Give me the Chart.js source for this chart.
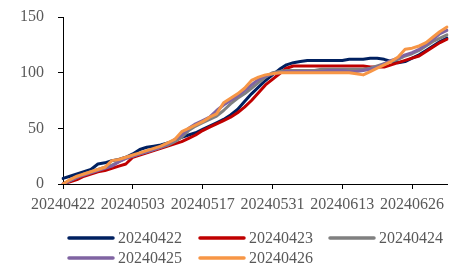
<!DOCTYPE html>
<html>
<head>
<meta charset="utf-8">
<script src="https://cdn.jsdelivr.net/npm/chart.js@4/dist/chart.umd.min.js"></script>
<style>
html,body{margin:0;padding:0;background:#fff;}
#c{display:block;}
</style>
</head>
<body>
<canvas id="c" width="449" height="267"></canvas>
<script>
const categories = [
  '20240422','20240423','20240424','20240425','20240426','20240428','20240429','20240430','20240501','20240502',
  '20240503','20240506','20240507','20240508','20240509','20240510','20240513','20240514','20240515','20240516',
  '20240517','20240520','20240521','20240522','20240523','20240524','20240527','20240528','20240529','20240530',
  '20240531','20240603','20240604','20240605','20240606','20240607','20240608','20240610','20240611','20240612',
  '20240613','20240614','20240615','20240617','20240618','20240619','20240620','20240621','20240624','20240625',
  '20240626','20240627','20240628','20240701','20240702','20240703'
];
const tickLabels = ['20240422','20240503','20240517','20240531','20240613','20240626'];
const seriesNames = ['20240422','20240423','20240424','20240425','20240426'];

const s20240422 = [5,7,9,11,13,18,19,21,22,24, 27,31,33,34,35,37,39,42,44,46, 49,52,55,58,62,67,74,81,87,93,
  98,103,107,109,110,111,111,111,111,111, 111,112,112,112,113,113,112,110,109,110, 113,116,120,124,128,131];
const s20240423 = [0,2,4,7,9,11,12,14,16,18, 24,26,28,30,32,34,36,38,41,44, 48,51,54,57,60,64,69,75,82,89,
  94,99,104,106,106,106,106,106,106,106, 106,106,106,106,105,105,105,107,109,111, 113,115,119,123,127,130];
const s20240424 = [0,3,6,9,11,13,15,17,20,23, 25,27,29,31,33,35,38,42,48,52, 55,58,61,66,72,77,81,86,91,96,
  100,101,102,102,102,102,102,103,103,103, 103,103,103,103,104,106,108,110,112,115, 117,120,124,128,131,134];
const s20240425 = [0,3,6,8,10,12,14,16,20,23, 25,27,29,31,33,36,40,44,50,54, 57,60,66,71,75,79,84,89,94,97,
  99,100,101,101,101,101,101,101,102,102, 102,101,101,102,103,105,108,111,113,116, 118,121,125,130,135,138];
const s20240426 = [0,4,7,9,11,13,15,21,22,24, 26,28,30,32,34,37,40,47,50,53, 56,60,63,73,77,81,86,93,96,98,
  99,100,100,100,100,100,100,100,100,100, 100,100,99,98,101,104,107,110,114,121, 122,124,127,132,137,141];
const yTicks = [0,50,100,150];

const colors = ['#002060','#C00000','#808080','#8064A2','#F79646'];
const allSeries = [s20240422,s20240423,s20240424,s20240425,s20240426];

const datasets = allSeries.map((d,i)=>({
  label: seriesNames[i],
  data: d,
  borderColor: colors[i],
  backgroundColor: colors[i],
  borderWidth: 3,
  pointRadius: 0,
  tension: 0,
  borderJoinStyle: 'round',
  borderCapStyle: 'round',
  fill: false,
  order: 5 - i
}));

const FONT = "'Liberation Serif', 'Times New Roman', serif";
const TXT = '#595959';

const legendPlugin = {
  id: 'customLegend',
  afterDraw(chart) {
    const ctx = chart.ctx;
    const pos = [[67,238],[198,238],[328,238],[67,258],[198,258]];
    ctx.save();
    ctx.font = '16px ' + FONT;
    ctx.textBaseline = 'middle';
    ctx.textAlign = 'left';
    chart.data.datasets.forEach((ds,i)=>{
      const [x,y] = pos[i];
      ctx.strokeStyle = ds.borderColor;
      ctx.lineWidth = 3.5;
      ctx.lineCap = 'round';
      ctx.beginPath();
      ctx.moveTo(x+2,y);
      ctx.lineTo(x+46,y);
      ctx.stroke();
      ctx.fillStyle = TXT;
      ctx.fillText(ds.label, x+51, y+1);
    });
    ctx.restore();
  }
};

new Chart(document.getElementById('c'), {
  type: 'line',
  data: { labels: categories, datasets },
  options: {
    responsive: false,
    animation: false,
    devicePixelRatio: 1,
    layout: { padding: { top: 17, right: 2, bottom: 53, left: 0 } },
    plugins: { legend: { display: false }, tooltip: { enabled: false } },
    scales: {
      x: {
        type: 'category',
        offset: false,
        grid: {
          drawOnChartArea: false,
          tickLength: 5,
          tickColor: c => tickLabels.includes(categories[c.index]) ? '#000' : 'rgba(0,0,0,0)',
          tickWidth: 1
        },
        border: { display: true, color: '#000', width: 1 },
        ticks: {
          autoSkip: false,
          maxRotation: 0,
          minRotation: 0,
          padding: 6,
          color: TXT,
          font: { family: FONT, size: 16 },
          callback: function(v, i) { const l = categories[i]; return tickLabels.includes(l) ? l : ''; }
        },
        afterFit: s => { s.height = 30; s.paddingLeft = 0; s.paddingRight = 0; }
      },
      y: {
        min: 0, max: 150,
        afterBuildTicks: s => { s.ticks = yTicks.map(v=>({value:v})); },
        grid: { drawOnChartArea: false, tickLength: 5, tickColor: '#000' },
        border: { display: true, color: '#000', width: 1 },
        ticks: { color: TXT, padding: 14, font: { family: FONT, size: 16 } },
        afterFit: s => { s.width = 63; s.paddingTop = 0; s.paddingBottom = 0; }
      }
    }
  },
  plugins: [legendPlugin]
});
</script>
</body>
</html>
